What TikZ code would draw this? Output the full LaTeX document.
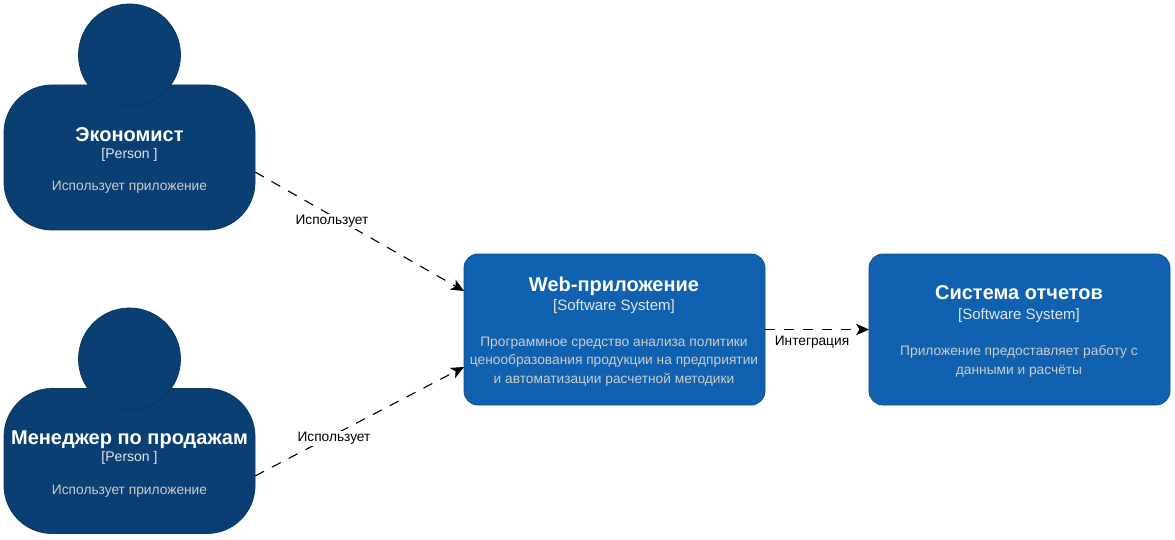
\documentclass[tikz,border=0pt]{standalone}
\usepackage{fontspec}
\setmainfont{Liberation Sans}
\usetikzlibrary{arrows.meta}
\definecolor{personfill}{HTML}{0A3F73}
\definecolor{personline}{HTML}{073763}
\definecolor{sysfill}{HTML}{1061B0}
\definecolor{sysline}{HTML}{0D5091}
\definecolor{desc}{HTML}{CCCCCC}
\tikzset{
  personbody/.style={draw=personline,fill=personfill,line width=.8pt,rounded corners=48pt,minimum width=251pt,minimum height=145pt,inner sep=0pt,outer sep=0pt},
  personhead/.style={circle,draw=personline,fill=personfill,line width=.8pt,minimum size=102pt,inner sep=0pt},
  sysbox/.style={draw=sysline,fill=sysfill,line width=.8pt,rounded corners=14pt,minimum width=301pt,minimum height=151pt,inner sep=0pt,outer sep=0pt},
  titletxt/.style={anchor=base,text=white,font=\fontsize{20}{20}\selectfont\bfseries,inner sep=0pt},
  subtxt/.style={anchor=base,text=desc!50!white,font=\fontsize{14}{14}\selectfont,inner sep=0pt},
  subwide/.style={subtxt,font=\fontsize{15}{15}\selectfont},
  desctxt/.style={anchor=base,text=desc,font=\fontsize{13.75}{13.75}\selectfont,inner sep=0pt},
  flow/.style={draw=black,line width=1.1pt,dash pattern=on 10pt off 9pt,-{Stealth[length=13pt,width=11.5pt,inset=3.5pt]}},
  flowlabel/.style={anchor=center,fill=white,text=black,font=\fontsize{13.7}{13.7}\selectfont,inner sep=1pt}
}
\begin{document}
\begin{tikzpicture}[x=1pt,y=-1pt]
\useasboundingbox (0,0) rectangle (1175,540);
\fill[white] (0,0) rectangle (1175,540);
% persons
\node[personbody] (econ) at (129.5,157.5) {};
\node[personhead] (econhead) at (129.5,55) {};
\node[personbody] (mgr) at (129.5,461) {};
\node[personhead] (mgrhead) at (129.5,359) {};
% systems
\node[sysbox] (web) at (614.5,329.5) {};
\node[sysbox] (rep) at (1019.5,329.5) {};
% connectors
\draw[flow] ([yshift=-14.5pt]econ.east) -- ([yshift=38.5pt]web.west);
\draw[flow] ([yshift=-15pt]mgr.east) -- ([yshift=-37.5pt]web.west);
\draw[flow] (web.east) -- (rep.west);
% texts
\node[titletxt] (t1) at (129.5,141.7) {Экономист};
\node[subtxt] (s1) at (129.5,158.4) {[Person ]};
\node[desctxt] (d1) at (129.5,191) {Использует приложение};
\node[titletxt] (t2) at (129.5,444) {Менеджер по продажам};
\node[subtxt] (s2) at (129.5,461) {[Person ]};
\node[desctxt] (d2) at (129.5,494) {Использует приложение};
\node[titletxt] (t3) at (614,291) {Web-приложение};
\node[subwide] (s3) at (614,310) {[Software System]};
\node[desctxt] (d3a) at (614,346) {Программное средство анализа политики};
\node[desctxt] (d3b) at (614,364) {ценообразования продукции на предприятии};
\node[desctxt] (d3c) at (614,383) {и автоматизации расчетной методики};
\node[titletxt] (t4) at (1019,299.7) {Система отчетов};
\node[subwide] (s4) at (1019,319) {[Software System]};
\node[desctxt] (d4a) at (1019,355) {Приложение предоставляет работу с};
\node[desctxt] (d4b) at (1019,374) {данными и расчёты};
% labels
\node[flowlabel] (l1) at (332,221.5) {Использует};
\node[flowlabel] (l2) at (334,438.5) {Использует};
\node[flowlabel] (l3) at (812,342.5) {Интеграция};
\end{tikzpicture}
\end{document}
